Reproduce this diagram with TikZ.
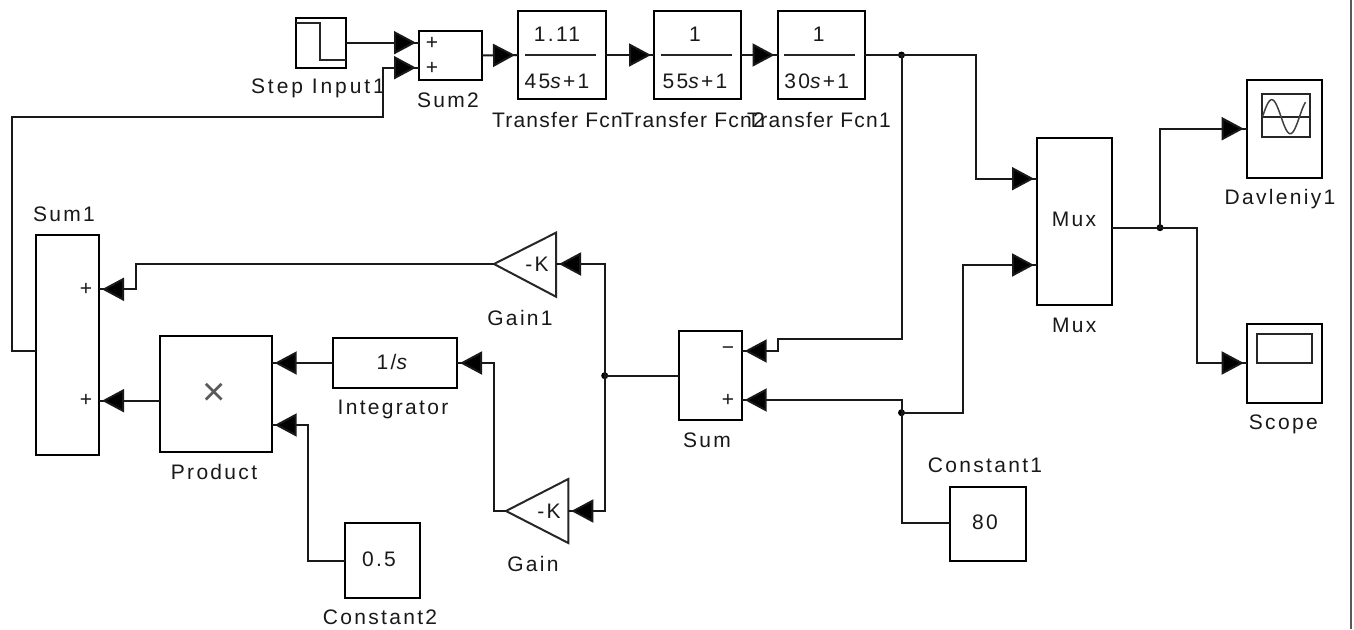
\documentclass[tikz,border=0pt]{standalone}
\usepackage{fontspec}
\setmainfont[LetterSpace=11]{Liberation Sans}
\newfontface\tightface[LetterSpace=6]{Liberation Sans}
\newfontface\wideface[LetterSpace=14]{Liberation Sans}
\usetikzlibrary{arrows.meta,calc}
\newcommand{\blockbox}[6]{%
  \pgfmathsetmacro{\bw}{#4-#2}\pgfmathsetmacro{\bh}{#5-#3}%
  \pgfmathsetmacro{\bx}{(#2+#4)/2}\pgfmathsetmacro{\by}{(#3+#5)/2}%
  \node[blockbox,minimum width=\bw pt,minimum height=\bh pt] (#1) at (\bx,\by) {#6};}
\tikzset{
  txt/.style={inner sep=0pt,outer sep=0pt,font=\fontsize{21}{23}\selectfont,text=black!90},
  blockbox/.style={draw,line width=2pt,inner sep=0pt,outer sep=0pt,fill=white,txt},
  wire/.style={line width=2pt,draw=black!90},
  arr/.style={wire,-{Triangle[length=22pt,width=23pt,fill=black]Rectangle[length=3pt,width=2pt,fill=black]}},
  dot/.style={circle,fill=black,inner sep=0pt,minimum size=7pt},
  icon/.style={line width=2pt,draw=black!85},
  thinicon/.style={line width=1.5pt,draw=black!75},
}
\begin{document}
\begin{tikzpicture}[x=1pt,y=-1pt]
\useasboundingbox (0,0) rectangle (1354,629);
\fill[white] (0,0) rectangle (1354,629);
\draw[line width=2pt,draw=black!65] (1350.5,0) -- (1350.5,629);
% blocks
\blockbox{step}{296}{18}{346}{68}{}
\blockbox{sumtwo}{419}{31}{482}{80}{}
\blockbox{tfa}{518}{11}{606}{99}{}
\blockbox{tfb}{654}{11}{741}{99}{}
\blockbox{tfc}{777.5}{11}{864.6}{99}{}
\blockbox{mux}{1037}{138}{1111.5}{305}{}
\blockbox{dav}{1246.7}{79.5}{1321.7}{178}{}
\blockbox{scope}{1246.7}{324}{1322}{403}{}
\blockbox{consta}{950.3}{487}{1025.7}{561}{}
\blockbox{sum}{678.7}{331}{741.7}{420}{}
\blockbox{integ}{332.7}{338}{457}{388}{}
\blockbox{prod}{160}{336}{271.7}{452}{}
\blockbox{constb}{345}{523}{420}{597.7}{}
\blockbox{sumone}{36.3}{235}{99}{455}{}
% gain triangles
\draw[icon,fill=white,line join=miter] (494,264) -- (556,232.7) -- (556,296.7) -- cycle;
\draw[icon,fill=white,line join=miter] (506,511) -- (568.3,479) -- (568.3,543) -- cycle;
\coordinate (gaoutp) at (494,264);
\coordinate (gainp) at (556,264);
\coordinate (gboutp) at (506,511);
\coordinate (gbinp) at (568.3,511);
% step icon
\draw[icon] (296,23.3) -- (320,23.3) -- (320,60) -- (346,60);
% fraction bars
\draw[icon] (525,55) -- (596,55);
\draw[icon] (660.7,55) -- (732,55);
\draw[icon] (784,55) -- (855.4,55);
% scope icons
\draw[icon] (1262,94) rectangle (1310,137);
\draw[icon] (1262,116.7) -- (1310,116.7);
\draw[thinicon] plot[domain=1262.5:1305.5,samples=60] (\x,{116.7-17*sin((\x-1262.5)*9.73)});
\draw[icon] (1256.7,333.5) rectangle (1312.3,363);
% junctions
\node[dot] (ja) at (901.5,55) {};
\node[dot] (jb) at (1160,227.7) {};
\node[dot] (jc) at (901.5,412.7) {};
\node[dot] (jd) at (604.7,375.7) {};
% ports
\coordinate (sumtwoa) at (419,42.7);
\coordinate (sumtwob) at (419,67.7);
\coordinate (muxa) at (1037,178.7);
\coordinate (muxb) at (1037,265);
\coordinate (muxo) at (1111.5,227.7);
\coordinate (sumneg) at (741.7,351);
\coordinate (sumpos) at (741.7,400);
\coordinate (sumo) at (678.7,375.7);
\coordinate (prodb) at (271.7,425);
\coordinate (proda) at (271.7,363);
\coordinate (prodo) at (160,400.7);
\coordinate (oneb) at (99,400.7);
\coordinate (onea) at (99,289.3);
\coordinate (oneo) at (36.3,351);
\coordinate (daviny) at (1246.7,128.7);
\coordinate (scopein) at (1246.7,363);
\coordinate (cona) at (950.3,523);
\coordinate (conb) at (345,560.7);
\coordinate (stepo) at (346,42.7);
% connectors
\draw[arr] (stepo) -- (sumtwoa);
\draw[arr] (oneo) -- (12,351) -- (12,116.7) -- (382.7,116.7) -- (382.7,67.7) -- (sumtwob);
\draw[arr] (sumtwo.east) -- (tfa.west);
\draw[arr] (tfa.east) -- (tfb.west);
\draw[arr] (tfb.east) -- (tfc.west);
\draw[wire] (tfc.east) -- (ja.center);
\draw[arr] (ja.center) -- (975.5,55) -- (975.5,178.7) -- (muxa);
\draw[arr] (ja.center) -- (901.5,338.7) -- (778,338.7) -- (778,351) -- (sumneg);
\draw[wire] (muxo) -- (jb.center);
\draw[arr] (jb.center) -- (1160,128.7) -- (daviny);
\draw[arr] (jb.center) -- (1197,227.7) -- (1197,363) -- (scopein);
\draw[wire] (cona) -- (901.5,523) -- (jc.center);
\draw[arr] (jc.center) -- (901.5,400) -- (sumpos);
\draw[arr] (jc.center) -- (963,412.7) -- (963,265) -- (muxb);
\draw[wire] (sumo) -- (jd.center);
\draw[arr] (jd.center) -- (604.7,264) -- (gainp);
\draw[arr] (jd.center) -- (604.7,511) -- (gbinp);
\draw[arr] (gaoutp) -- (135.7,264) -- (135.7,289.3) -- (onea);
\draw[arr] (gboutp) -- (494,511) -- (494,363) -- (integ.east);
\draw[arr] (integ.west) -- (proda);
\draw[arr] (conb) -- (308,560.7) -- (308,425) -- (prodb);
\draw[arr] (prodo) -- (oneb);
% texts
\node[txt] (lstep) at (318,88) {\wideface Step Input1};
\node[txt] (lsumtwo) at (448,100) {Sum2};
\node[txt,anchor=west] (ltfa) at (492,120) {\tightface Transfer Fcn};
\node[txt,anchor=west] (ltfb) at (621,120) {\tightface Transfer Fcn2};
\node[txt,anchor=west] (ltfc) at (747,120) {\tightface Transfer Fcn1};
\node[txt] (ltfan) at (557,34) {1.11};
\node[txt] (ltfad) at (557,81) {45\textit{s}+1};
\node[txt] (ltfbn) at (695,34) {1};
\node[txt] (ltfbd) at (695,81) {55\textit{s}+1};
\node[txt] (ltfcn) at (818.7,34) {1};
\node[txt] (ltfcd) at (816.7,81) {30\textit{s}+1};
\node[txt] (pa) at (432,43) {+};
\node[txt] (pb) at (432,68) {+};
\node[txt] (pc) at (86,289) {+};
\node[txt] (pd) at (86,400.7) {+};
\node[txt] (pe) at (728,351) {\textminus};
\node[txt] (pf) at (728,400) {+};
\node[txt] (lsumone) at (64,214) {Sum1};
\node[txt] (lgaina) at (520,318) {Gain1};
\node[txt] (lgainb) at (533,564) {Gain};
\node[txt] (lsum) at (707,440) {Sum};
\node[txt] (linteg) at (393,409) {Integrator};
\node[txt] (lprod) at (214,472) {Product};
\node[txt] (lmux) at (1074.3,325) {Mux};
\node[txt] (lmuxin) at (1074,219) {Mux};
\node[txt] (ldav) at (1280,199) {Davleniy1};
\node[txt] (lscope) at (1283.3,424) {Scope};
\node[txt] (lconstain) at (985,522) {80};
\node[txt] (lconsta) at (985,465) {Constant1};
\node[txt] (lconstbin) at (379,559) {0.5};
\node[txt] (lconstb) at (380,617.7) {Constant2};
\node[txt] (lintegin) at (393,362) {1/\textit{s}};
\node[txt,font=\fontsize{40}{42}\selectfont,text=black!65] (lx) at (214,394) {×};
\node[txt] (kone) at (537,264) {-K};
\node[txt] (ktwo) at (549,511) {-K};
\end{tikzpicture}
\end{document}
